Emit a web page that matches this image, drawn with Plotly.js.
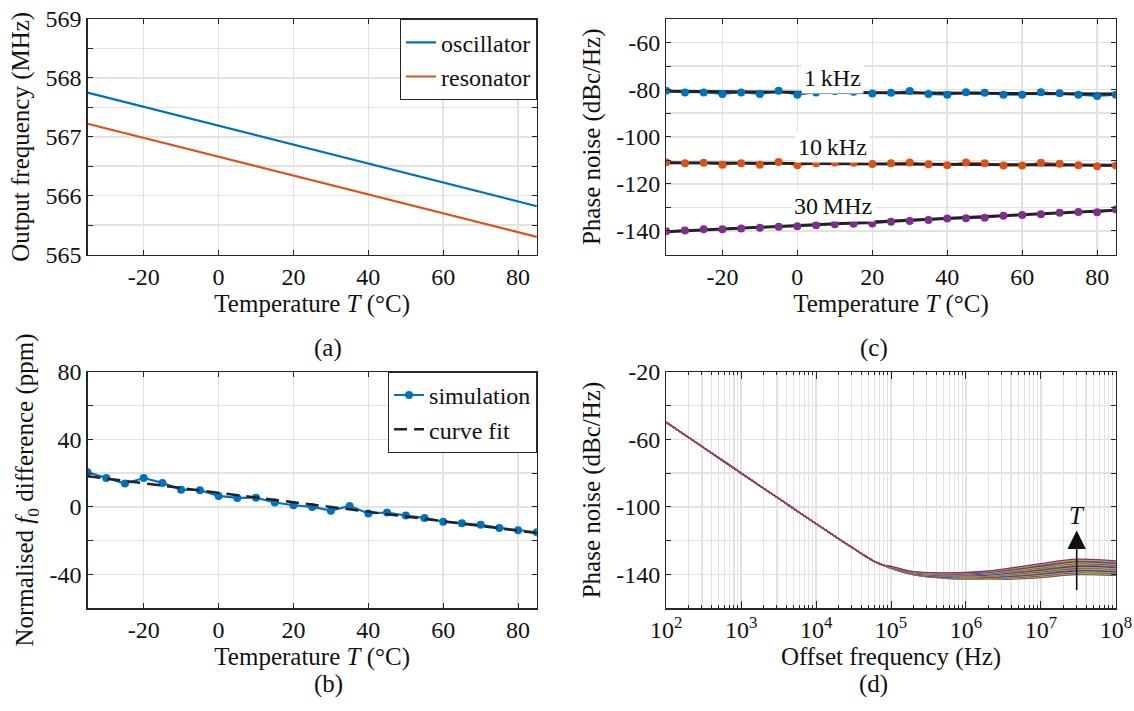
<!DOCTYPE html>
<html><head><meta charset="utf-8">
<script src="https://cdn.plot.ly/plotly-3.0.1.min.js"></script>
<style>html,body{margin:0;padding:0;background:#fff}</style>
</head><body><div id="chart" style="width:1134px;height:711px"></div>
<script>
// ---------- data ----------
// (a) output frequency vs temperature
const tempA = [-35, -20, 0, 20, 40, 60, 85];
const oscillatorMHz = [567.75, 567.51, 567.19, 566.87, 566.55, 566.23, 565.82];
const resonatorMHz  = [567.22, 566.98, 566.66, 566.34, 566.02, 565.70, 565.30];

// temperature sweep used in (b) and (c)
const tempSweep = [-35,-30,-25,-20,-15,-10,-5,0,5,10,15,20,25,30,35,40,45,50,55,60,65,70,75,80,85];

// (b) normalised f0 difference (ppm)
const simPpm = [20.5,17.1,13.8,17.1,14.2,10.2,9.9,6.5,5.3,5.5,2.6,1.0,0.0,-2.2,0.6,-3.9,-3.3,-5.1,-6.5,-8.7,-9.7,-10.6,-12.4,-13.8,-15.0];
const fitTemp = [-35, 85];
const fitPpm = [18.2, -15.5];

// (c) phase noise vs temperature
const pn1kHz  = [-80.5,-81.2,-81.2,-81.9,-81.2,-81.9,-80.5,-82.2,-81.2,-80.6,-80.9,-81.6,-81.3,-80.6,-81.9,-82.2,-81.1,-81.3,-82.2,-82.2,-81.1,-81.5,-82.2,-82.7,-82.2];
const pn10kHz = [-110.8,-111.2,-111.0,-111.9,-111.2,-111.9,-110.7,-112.1,-111.2,-110.9,-111.0,-111.6,-111.3,-110.9,-111.7,-112.1,-110.9,-111.2,-112.2,-112.2,-111.0,-111.5,-112.1,-112.5,-112.2];
const pn30MHz = [-140.1,-139.8,-139.3,-139.3,-138.9,-138.6,-138.2,-138.0,-137.6,-137.1,-136.9,-136.8,-136.1,-135.8,-135.3,-134.7,-134.6,-134.4,-133.5,-133.2,-132.9,-132.3,-131.9,-132.1,-130.9];
const fit1kHz  = [-80.7, -81.9];
const fit10kHz = [-111.0, -112.1];
const fit30MHz = [-140.3, -131.2];
const offsetLabels = ['1\u2009kHz', '10\u2009kHz', '30\u2009MHz'];
const offsetLabelY = [-75, -104.2, -129.2];

// (d) phase noise vs offset frequency, one curve per temperature
const freqLow = [1e2, 3e2, 1e3, 3e3, 1e4, 2e4, 4e4, 6e4, 8e4];
const pnLow   = [-50, -64.3, -80, -94.3, -110, -118.8, -127.6, -132.2, -134.6];
const freqHigh = [1e5, 2e5, 5e5, 1e6, 2e6, 5e6, 1e7, 3e7, 1e8];
const pnHighByTemp = [
  [-136.4,-140.2,-142.2,-142.8,-142.9,-142.5,-141.8,-140.1,-140.5],
  [-136.4,-140.1,-142.1,-142.6,-142.7,-142.2,-141.5,-139.8,-140.2],
  [-136.3,-140.0,-141.9,-142.5,-142.5,-141.9,-141.1,-139.3,-139.8],
  [-136.3,-140.0,-141.8,-142.3,-142.3,-141.6,-140.8,-139.0,-139.4],
  [-136.2,-139.9,-141.7,-142.1,-142.1,-141.3,-140.4,-138.6,-139.1],
  [-136.2,-139.8,-141.5,-142.0,-141.9,-141.0,-140.1,-138.2,-138.7],
  [-136.1,-139.7,-141.4,-141.8,-141.7,-140.8,-139.8,-137.8,-138.4],
  [-136.1,-139.6,-141.3,-141.6,-141.4,-140.5,-139.4,-137.4,-138.0],
  [-136.0,-139.6,-141.1,-141.5,-141.2,-140.2,-139.1,-137.0,-137.7],
  [-136.0,-139.5,-141.0,-141.3,-141.0,-139.9,-138.7,-136.7,-137.3],
  [-135.9,-139.4,-140.9,-141.1,-140.8,-139.6,-138.4,-136.3,-137.0],
  [-135.9,-139.3,-140.7,-141.0,-140.6,-139.3,-138.0,-135.9,-136.6],
  [-135.8,-139.3,-140.6,-140.8,-140.4,-139.0,-137.7,-135.5,-136.3],
  [-135.8,-139.2,-140.5,-140.6,-140.2,-138.7,-137.4,-135.1,-135.9],
  [-135.7,-139.1,-140.3,-140.5,-140.0,-138.4,-137.0,-134.7,-135.5],
  [-135.7,-139.0,-140.2,-140.3,-139.8,-138.1,-136.7,-134.4,-135.2],
  [-135.6,-138.9,-140.1,-140.1,-139.6,-137.8,-136.3,-134.0,-134.8],
  [-135.6,-138.9,-139.9,-140.0,-139.4,-137.5,-136.0,-133.6,-134.5],
  [-135.5,-138.8,-139.8,-139.8,-139.2,-137.3,-135.7,-133.2,-134.1],
  [-135.5,-138.7,-139.7,-139.6,-138.9,-137.0,-135.3,-132.8,-133.8],
  [-135.4,-138.6,-139.5,-139.5,-138.7,-136.7,-135.0,-132.4,-133.4],
  [-135.4,-138.5,-139.4,-139.3,-138.5,-136.4,-134.6,-132.1,-133.1],
  [-135.3,-138.5,-139.3,-139.1,-138.3,-136.1,-134.3,-131.7,-132.7],
  [-135.3,-138.4,-139.1,-139.0,-138.1,-135.8,-133.9,-131.3,-132.4],
  [-135.2,-138.3,-139.0,-138.8,-137.9,-135.5,-133.6,-130.9,-132.0]
];
const arrowFreq = 3e7;

// ---------- styling ----------
const F = 'Liberation Serif, Times New Roman, serif';
const FS = 24;      // tick labels
const FT = 25;      // axis titles
const TXT = '#111111';
const AX = '#262626';
const GRID = '#e2e2e2';
const C = ['#0072BD', '#D95319', '#EDB120', '#7E2F8E', '#77AC30', '#4DBEEE', '#A2142F'];

function ax(extra, titleText, standoff) {
  return Object.assign({
    showline: true, linecolor: AX, linewidth: 1.2, mirror: 'ticks',
    ticks: 'inside', ticklen: 5, tickcolor: AX, tickwidth: 1,
    showgrid: true, gridcolor: GRID, gridwidth: 1.5, zeroline: false,
    automargin: false, tickfont: {family: F, size: FS, color: TXT},
    title: {text: titleText, font: {family: F, size: FT, color: TXT}, standoff: standoff}
  }, extra);
}
function minorGrid(vals, len) {
  return {tickmode: 'array', tickvals: vals, ticks: 'inside', ticklen: len, tickcolor: AX,
    showgrid: true, gridcolor: GRID, gridwidth: 1.5};
}

const tempTicks = [-20, 0, 20, 40, 60, 80];
const aYMajor = [565, 566, 567, 568, 569], aYMinor = [565.5, 566.5, 567.5, 568.5];
const bYMajor = [-40, 0, 40, 80], bYMinor = [-20, 20, 60];
const cYMajor = [-140, -120, -100, -80, -60], cYMinor = [-130, -110, -90, -70];
const dYMajor = [-140, -100, -60, -20], dYMinor = [-120, -80, -40];
const decades = [1e2, 1e3, 1e4, 1e5, 1e6, 1e7, 1e8];
const minorLog = [];
for (let d = 2; d < 8; d++) for (let k = 2; k <= 9; k++) minorLog.push(k * Math.pow(10, d));

const dx1 = [0.0772, 0.4734], dx2 = [0.5875, 0.9840];
const dyTop = [0.6420, 0.9733], dyBot = [0.1444, 0.4772];

const traces = [];
// (a)
traces.push({x: tempA, y: oscillatorMHz, xaxis: 'x', yaxis: 'y', mode: 'lines', name: 'oscillator',
  line: {color: C[0], width: 2.2}, legend: 'legend'});
traces.push({x: tempA, y: resonatorMHz, xaxis: 'x', yaxis: 'y', mode: 'lines', name: 'resonator',
  line: {color: C[1], width: 2.2}, legend: 'legend'});
// (b)
traces.push({x: tempSweep, y: simPpm, xaxis: 'x2', yaxis: 'y2', mode: 'lines+markers', name: 'simulation',
  line: {color: C[0], width: 2.2}, marker: {color: C[0], size: 8}, legend: 'legend2'});
traces.push({x: fitTemp, y: fitPpm, xaxis: 'x2', yaxis: 'y2', mode: 'lines', name: 'curve fit',
  line: {color: '#222222', width: 2.5, dash: '13px,7px'}, legend: 'legend2'});
// (c)
const cSeries = [[pn1kHz, fit1kHz, C[0]], [pn10kHz, fit10kHz, C[1]], [pn30MHz, fit30MHz, C[3]]];
cSeries.forEach(([vals, fit, col]) => {
  traces.push({x: tempSweep, y: vals, xaxis: 'x3', yaxis: 'y3', mode: 'lines', showlegend: false,
    line: {color: col, width: 1.8}});
  traces.push({x: fitTemp, y: fit, xaxis: 'x3', yaxis: 'y3', mode: 'lines', showlegend: false,
    line: {color: '#222222', width: 3}});
  traces.push({x: tempSweep, y: vals, xaxis: 'x3', yaxis: 'y3', mode: 'markers', showlegend: false,
    marker: {color: col, size: 8}});
});
// (d)
pnHighByTemp.forEach((hi, i) => {
  traces.push({x: freqLow.concat(freqHigh), y: pnLow.concat(hi), xaxis: 'x4', yaxis: 'y4',
    mode: 'lines', showlegend: false, line: {color: C[i % 7], width: 1.3, shape: 'spline', smoothing: 1}});
});

const annFont = {family: F, size: FT, color: TXT};
const annotations = [
  {text: '(a)', xref: 'paper', yref: 'paper', x: 312/1134, y: 1 - 348/711, showarrow: false, font: annFont},
  {text: '(b)', xref: 'paper', yref: 'paper', x: 312/1134, y: 1 - 700/711, showarrow: false, font: annFont},
  {text: '(c)', xref: 'paper', yref: 'paper', x: 890/1134, y: 1 - 348/711, showarrow: false, font: annFont},
  {text: '(d)', xref: 'paper', yref: 'paper', x: 890/1134, y: 1 - 700/711, showarrow: false, font: annFont},
  {text: '', xref: 'x4', yref: 'y4', axref: 'x4', ayref: 'y4',
   x: Math.log10(arrowFreq), y: -114, ax: Math.log10(arrowFreq), ay: -150,
   showarrow: true, arrowhead: 2, arrowsize: 2.3, arrowwidth: 1.6, arrowcolor: '#111'},
  {text: '<i>T</i>', xref: 'x4', yref: 'y4', x: Math.log10(arrowFreq), y: -105, showarrow: false,
   font: {family: F, size: 25, color: TXT}}
];
offsetLabels.forEach((t, i) => {
  annotations.push({text: t, xref: 'x3', yref: 'y3', x: 9.5, y: offsetLabelY[i], showarrow: false,
    bgcolor: '#ffffff', borderpad: 2, font: {family: F, size: 24, color: TXT}});
});

const legendStyle = {bgcolor: '#ffffff', bordercolor: AX, borderwidth: 1.2,
  font: {family: F, size: 24, color: TXT}, xanchor: 'right', yanchor: 'top', tracegroupgap: 0};

const layout = {
  width: 1134, height: 711, margin: {l: 0, r: 0, t: 0, b: 0},
  paper_bgcolor: '#ffffff', plot_bgcolor: '#ffffff',
  font: {family: F, size: FS, color: TXT},
  xaxis: ax({domain: dx1, anchor: 'y', range: [-35, 85], tickmode: 'array', tickvals: tempTicks,
    ticktext: tempTicks.map(String)}, 'Temperature <i>T</i> (°C)', 6),
  yaxis: ax({domain: dyTop, anchor: 'x', range: [565, 569], tickmode: 'array', tickvals: aYMajor,
    ticktext: aYMajor.map(String), minor: minorGrid(aYMinor, 5)}, 'Output frequency (MHz)', 8),
  xaxis2: ax({domain: dx1, anchor: 'y2', range: [-35, 85], tickmode: 'array', tickvals: tempTicks,
    ticktext: tempTicks.map(String)}, 'Temperature <i>T</i> (°C)', 1),
  yaxis2: ax({domain: dyBot, anchor: 'x2', range: [-60, 80], tickmode: 'array', tickvals: bYMajor,
    ticktext: bYMajor.map(String), minor: minorGrid(bYMinor, 5)}, 'Normalised <i>f</i><sub>0</sub> difference (ppm)', 8),
  xaxis3: ax({domain: dx2, anchor: 'y3', range: [-35, 85], tickmode: 'array', tickvals: tempTicks,
    ticktext: tempTicks.map(String)}, 'Temperature <i>T</i> (°C)', 6),
  yaxis3: ax({domain: dyTop, anchor: 'x3', range: [-150, -50], tickmode: 'array', tickvals: cYMajor,
    ticktext: cYMajor.map(String), minor: minorGrid(cYMinor, 5)}, 'Phase noise (dBc/Hz)', 8),
  xaxis4: ax({domain: dx2, anchor: 'y4', type: 'log', range: [2, 8], tickmode: 'array', tickvals: decades,
    ticktext: decades.map(v => '10<sup>' + Math.round(Math.log10(v)) + '</sup>'), ticklen: 7,
    minor: Object.assign(minorGrid(minorLog, 3.5), {gridwidth: 1.2})}, 'Offset frequency (Hz)', 0),
  yaxis4: ax({domain: dyBot, anchor: 'x4', range: [-160, -20], tickmode: 'array', tickvals: dYMajor,
    ticktext: dYMajor.map(String), minor: minorGrid(dYMinor, 5)}, 'Phase noise (dBc/Hz)', 8),
  legend: Object.assign({x: 0.4734, y: 0.9733}, legendStyle),
  legend2: Object.assign({x: 0.4734, y: 0.4772}, legendStyle),
  annotations: annotations,
  showlegend: true
};

Plotly.newPlot('chart', traces, layout, {staticPlot: true, displayModeBar: false});
</script>
</body></html>
